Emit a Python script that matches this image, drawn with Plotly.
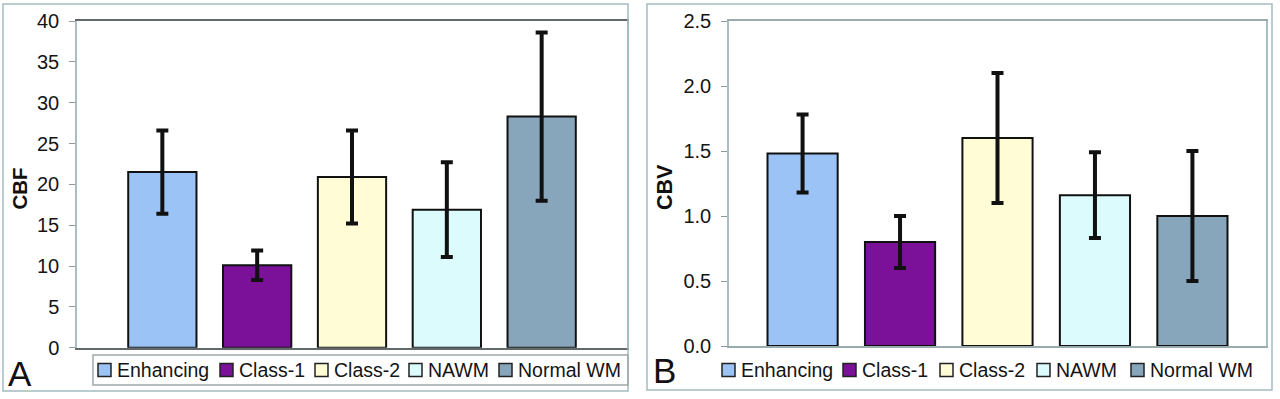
import plotly.graph_objects as go

# ---------------- data ----------------
categories = ["Enhancing", "Class-1", "Class-2", "NAWM", "Normal WM"]
cbf_mean = [21.5, 10.1, 20.9, 16.9, 28.3]
cbf_err = [5.1, 1.8, 5.7, 5.8, 10.3]
cbv_mean = [1.48, 0.80, 1.60, 1.16, 1.00]
cbv_err = [0.30, 0.20, 0.50, 0.33, 0.50]
cbf_ticks = [0, 5, 10, 15, 20, 25, 30, 35, 40]
cbv_ticks = [0.0, 0.5, 1.0, 1.5, 2.0, 2.5]
bar_colors = ["#9cc3f5", "#7a1198", "#fffcd6", "#dcfbfd", "#87a6bb"]

W, H = 1280, 399
FONT = "Liberation Sans, Arial, sans-serif"


def px(x):
    return x / W


def py(y):
    return 1 - y / H


fig = go.Figure()
xpos = list(range(len(categories)))

fig.add_trace(go.Bar(
    x=xpos, y=cbf_mean, width=0.72, xaxis="x", yaxis="y",
    marker=dict(color=bar_colors, line=dict(color="#111111", width=2)),
    error_y=dict(type="data", array=cbf_err, color="#111111", thickness=4, width=6),
    hovertext=categories, showlegend=False,
))
fig.add_trace(go.Bar(
    x=xpos, y=cbv_mean, width=0.72, xaxis="x2", yaxis="y2",
    marker=dict(color=bar_colors, line=dict(color="#111111", width=2)),
    error_y=dict(type="data", array=cbv_err, color="#111111", thickness=4, width=6),
    hovertext=categories, showlegend=False,
))

axis_common = dict(showgrid=False, zeroline=False, mirror=True, showline=True, automargin=False)

fig.update_layout(
    template="none",
    width=W, height=H, autosize=False,
    margin=dict(l=0, r=0, t=0, b=0, pad=0, autoexpand=False),
    paper_bgcolor="white", plot_bgcolor="white",
    font=dict(family=FONT, size=20, color="#141414"),
    xaxis=dict(domain=[px(77), px(627)], range=[-0.9, 4.9], showticklabels=False,
               ticks="", linecolor="#62696b", linewidth=1.5, anchor="y", **axis_common),
    yaxis=dict(domain=[py(347.7), py(21)], range=[0, 40], tickvals=cbf_ticks,
               ticks="outside", ticklen=6, tickcolor="#8f9a9c", ticklabelstandoff=6,
               linecolor="#a9bec2", linewidth=1.5, anchor="x", **axis_common),
    xaxis2=dict(domain=[px(729), px(1266)], range=[-0.755, 4.755], showticklabels=False,
                ticks="", linecolor="#9aabae", linewidth=1.5, anchor="y2", **axis_common),
    yaxis2=dict(domain=[py(346), py(21)], range=[0, 2.5], tickvals=cbv_ticks,
                tickformat=".1f", ticks="outside", ticklen=6, tickcolor="#8f9a9c",
                ticklabelstandoff=6, linecolor="#a9bec2", linewidth=1.5, anchor="x2",
                **axis_common),
)

shapes = []
annotations = []

# panel frames
shapes.append(dict(type="rect", xref="paper", yref="paper", x0=px(3), x1=px(628),
                   y0=py(391), y1=py(4), line=dict(color="#a3bcc0", width=1.5)))
shapes.append(dict(type="rect", xref="paper", yref="paper", x0=px(647), x1=px(1272),
                   y0=py(390), y1=py(4), line=dict(color="#a3bcc0", width=1.5)))
# legend box (panel A)
shapes.append(dict(type="rect", xref="paper", yref="paper", x0=px(93), x1=px(628),
                   y0=py(385), y1=py(355), line=dict(color="#a0a8aa", width=1.5)))

# manual legends
legend_left = [98, 220, 315, 409, 499]
legend_right = [722, 843, 940, 1037, 1131]
for xs in (legend_left, legend_right):
    for x0, name, col in zip(xs, categories, bar_colors):
        shapes.append(dict(type="rect", xref="paper", yref="paper", x0=px(x0), x1=px(x0 + 13),
                           y0=py(376.5), y1=py(363.5), fillcolor=col,
                           line=dict(color="#222222", width=1.5)))
        annotations.append(dict(text=name, xref="paper", yref="paper", x=px(x0 + 17),
                                y=py(370), xanchor="left", yanchor="middle", showarrow=False,
                                font=dict(size=19.5, color="#141414")))

# axis titles
annotations.append(dict(text="<b>CBF</b>", xref="paper", yref="paper", x=px(19.5), y=py(189),
                        textangle=-90, showarrow=False, xanchor="center", yanchor="middle",
                        font=dict(size=20.5, color="#111111")))
annotations.append(dict(text="<b>CBV</b>", xref="paper", yref="paper", x=px(665), y=py(187),
                        textangle=-90, showarrow=False, xanchor="center", yanchor="middle",
                        font=dict(size=21.5, color="#111111")))
# panel letters
annotations.append(dict(text="A", xref="paper", yref="paper", x=px(6), y=py(373),
                        xanchor="left", yanchor="middle", showarrow=False,
                        font=dict(size=35, color="#111111")))
annotations.append(dict(text="B", xref="paper", yref="paper", x=px(651), y=py(370),
                        xanchor="left", yanchor="middle", showarrow=False,
                        font=dict(size=35, color="#111111")))

fig.update_layout(shapes=shapes, annotations=annotations)
fig.write_html("out.html", config={"displayModeBar": False},
               post_script="document.body.style.margin='0';document.body.style.overflow='hidden';")
